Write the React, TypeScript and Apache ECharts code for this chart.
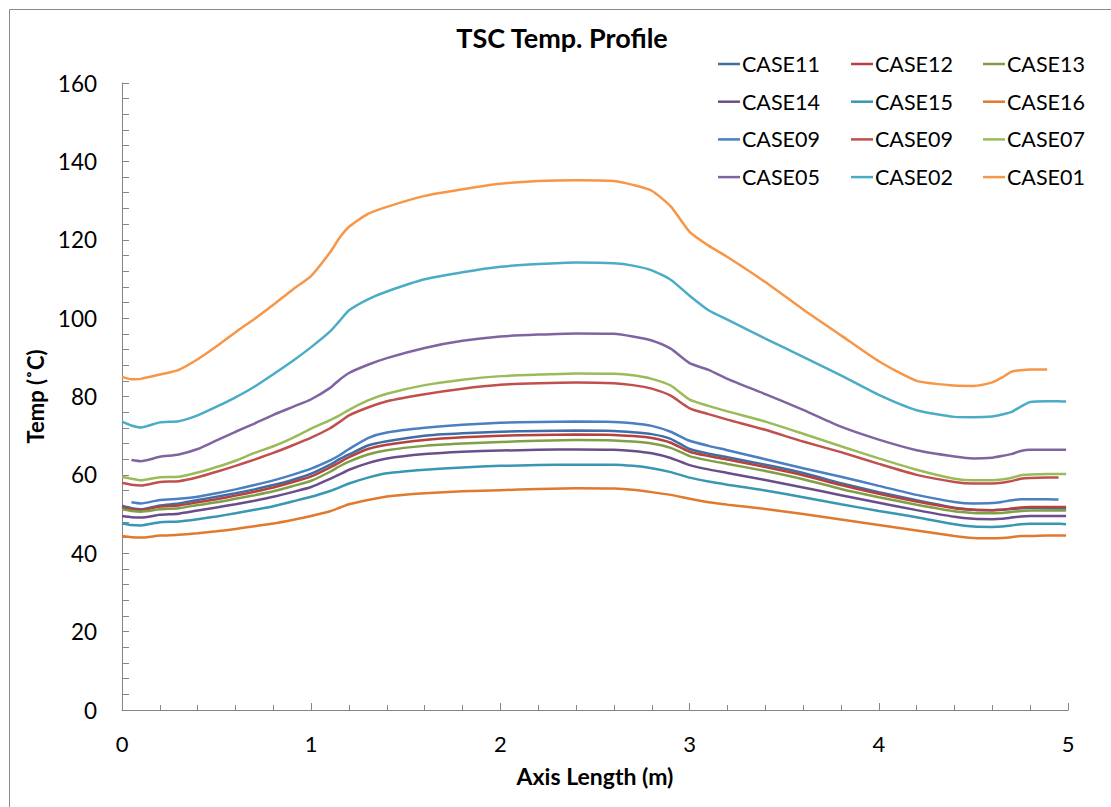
import React, { useEffect, useRef } from "react";
import * as echarts from "echarts";

// Axial positions (m) shared by all temperature profiles
const axisLength = [
  0, 0.05, 0.1, 0.2, 0.3, 0.4, 0.5, 0.6, 0.7, 0.8,
  0.9, 1.0, 1.1, 1.15, 1.2, 1.3, 1.4, 1.6, 1.8, 2.0,
  2.2, 2.4, 2.6, 2.7, 2.8, 2.9, 3.0, 3.1, 3.2, 3.4,
  3.6, 3.8, 4.0, 4.2, 4.4, 4.5, 4.6, 4.65, 4.7, 4.75,
  4.8, 4.89, 4.95, 4.99,
];

// Temperatures (°C); null where a profile has no reading
const case11 = [
  52.1, 51.5, 51.2, 52.2, 52.7, 53.6, 54.4, 55.3, 56.3, 57.4,
  58.7, 60.3, 62.6, 64.0, 65.2, 67.5, 68.6, 70.0, 70.6, 71.0,
  71.2, 71.3, 71.2, 70.9, 70.4, 69.2, 66.6, 65.4, 64.5, 62.6,
  60.5, 57.9, 55.6, 53.5, 51.6, 51.1, 51.0, 51.1, 51.3, 51.5,
  51.6, 51.5, 51.4, 51.4,
];
const case12 = [
  51.6, 51.2, 51.0, 51.9, 52.2, 53.0, 53.8, 54.7, 55.7, 56.8,
  58.1, 59.6, 61.9, 63.2, 64.5, 66.6, 67.7, 68.9, 69.6, 70.0,
  70.2, 70.3, 70.2, 69.9, 69.4, 68.2, 65.9, 64.8, 63.9, 62.0,
  59.9, 57.4, 55.2, 53.2, 51.5, 51.1, 51.0, 51.1, 51.4, 51.7,
  51.8, 51.8, 51.8, 51.8,
];
const case13 = [
  51.2, 50.8, 50.6, 51.2, 51.5, 52.3, 53.0, 53.9, 54.8, 55.8,
  57.1, 58.5, 60.8, 62.2, 63.4, 65.2, 66.3, 67.4, 68.0, 68.4,
  68.7, 68.9, 68.8, 68.5, 68.0, 66.9, 64.8, 63.7, 62.8, 61.0,
  58.9, 56.4, 54.3, 52.4, 50.7, 50.3, 50.2, 50.3, 50.5, 50.8,
  50.9, 50.9, 50.9, 50.9,
];
const case14 = [
  49.5, 49.2, 49.1, 49.8, 50.1, 50.9, 51.7, 52.5, 53.4, 54.4,
  55.6, 56.9, 59.0, 60.1, 61.3, 63.0, 64.2, 65.3, 65.9, 66.2,
  66.4, 66.5, 66.4, 66.1, 65.5, 64.3, 62.5, 61.4, 60.5, 58.7,
  56.8, 54.8, 52.9, 51.0, 49.3, 48.8, 48.7, 48.8, 49.1, 49.4,
  49.5, 49.5, 49.5, 49.5,
];
const case15 = [
  47.6, 47.2, 47.1, 47.9, 48.1, 48.7, 49.4, 50.2, 51.1, 52.0,
  53.2, 54.4, 55.9, 56.8, 57.8, 59.3, 60.4, 61.3, 61.9, 62.3,
  62.5, 62.6, 62.6, 62.3, 61.7, 60.7, 59.3, 58.3, 57.5, 56.0,
  54.3, 52.5, 50.8, 49.2, 47.4, 46.8, 46.7, 46.8, 47.1, 47.4,
  47.5, 47.5, 47.5, 47.4,
];
const case16 = [
  44.4, 44.1, 44.0, 44.5, 44.7, 45.1, 45.6, 46.2, 46.9, 47.6,
  48.5, 49.5, 50.7, 51.6, 52.5, 53.6, 54.5, 55.3, 55.8, 56.1,
  56.4, 56.6, 56.5, 56.2, 55.6, 54.9, 53.9, 53.0, 52.4, 51.3,
  50.0, 48.6, 47.2, 45.8, 44.4, 43.9, 43.8, 43.9, 44.1, 44.4,
  44.4, 44.5, 44.5, 44.5,
];
const case09a = [
  null, 53.0, 52.7, 53.6, 53.9, 54.4, 55.3, 56.3, 57.4, 58.6,
  60.0, 61.6, 63.7, 65.0, 66.6, 69.4, 70.8, 72.0, 72.8, 73.3,
  73.5, 73.6, 73.5, 73.2, 72.5, 71.0, 68.7, 67.4, 66.3, 64.0,
  61.7, 59.5, 57.2, 54.9, 53.1, 52.7, 52.8, 53.1, 53.5, 53.8,
  53.8, 53.8, 53.7, null,
];
const case09b = [
  58.0, 57.5, 57.3, 58.2, 58.4, 59.4, 60.8, 62.3, 63.9, 65.6,
  67.5, 69.5, 71.9, 73.5, 75.2, 77.2, 78.8, 80.6, 82.0, 83.0,
  83.4, 83.6, 83.4, 82.9, 82.0, 80.2, 77.0, 75.5, 74.1, 71.5,
  68.5, 65.8, 62.8, 60.0, 58.2, 57.8, 57.8, 58.0, 58.4, 59.0,
  59.2, 59.3, 59.3, null,
];
const case07 = [
  59.5, 59.0, 58.6, 59.4, 59.5, 60.6, 62.0, 63.6, 65.6, 67.3,
  69.4, 71.8, 74.0, 75.2, 76.6, 79.0, 80.7, 82.9, 84.3, 85.2,
  85.6, 85.9, 85.8, 85.4, 84.5, 82.8, 79.2, 77.6, 76.2, 73.6,
  70.5, 67.3, 64.2, 61.3, 59.0, 58.6, 58.6, 58.8, 59.2, 59.9,
  60.1, 60.2, 60.2, 60.2,
];
const case05 = [
  null, 63.8, 63.5, 64.6, 65.2, 66.6, 68.8, 71.0, 73.1, 75.3,
  77.3, 79.3, 82.2, 84.3, 86.0, 88.1, 89.8, 92.4, 94.2, 95.3,
  95.8, 96.1, 96.0, 95.3, 94.3, 92.2, 88.5, 86.8, 84.5, 80.6,
  76.6, 72.3, 69.0, 66.3, 64.7, 64.2, 64.4, 64.8, 65.3, 66.1,
  66.4, 66.4, 66.4, 66.4,
];
const case02 = [
  73.6, 72.6, 72.1, 73.4, 73.7, 75.2, 77.4, 79.8, 82.5, 85.7,
  89.0, 92.6, 96.6, 99.3, 102.0, 104.8, 106.8, 109.9, 111.7, 113.1,
  113.8, 114.2, 114.0, 113.4, 112.2, 109.8, 105.7, 102.0, 99.6, 94.8,
  90.1, 85.4, 80.4, 76.5, 74.8, 74.7, 74.9, 75.4, 76.0, 77.4,
  78.6, 78.8, 78.8, 78.7,
];
const case01 = [
  85.0, 84.4, 84.5, 85.6, 86.8, 89.5, 92.8, 96.4, 99.8, 103.4,
  107.2, 110.8, 116.8, 120.5, 123.3, 126.6, 128.4, 131.2, 132.9, 134.3,
  135.0, 135.2, 135.0, 134.0, 132.5, 128.5, 122.0, 118.5, 115.6, 109.2,
  102.2, 95.6, 89.0, 84.0, 82.8, 82.7, 83.6, 84.8, 86.3, 86.7,
  86.9, 86.9, null, null,
];

const caseNames = [
  "CASE11", "CASE12", "CASE13", "CASE14", "CASE15", "CASE16",
  "CASE09", "CASE09", "CASE07", "CASE05", "CASE02", "CASE01",
];
const caseValues = [
  case11, case12, case13, case14, case15, case16,
  case09a, case09b, case07, case05, case02, case01,
];
const caseColors = [
  "#3F6DA8", "#B5423F", "#7FA046", "#6A4E8C", "#3897B1", "#E07A2E",
  "#4A7FC2", "#C0504D", "#9BBB59", "#8064A2", "#4BACC6", "#F79646",
];

const yTicks = [0, 20, 40, 60, 80, 100, 120, 140, 160];
const xTicks = [0, 1, 2, 3, 4, 5];

const FONT = "Lato, 'Open Sans', sans-serif";
const AXIS_GRAY = "#868686";

export default function App() {
  const ref = useRef<HTMLDivElement>(null);

  useEffect(() => {
    if (!ref.current) return;
    const chart = echarts.init(ref.current, undefined, { renderer: "svg" });

    const series = caseNames.map((name, i) => ({
      name,
      type: "line",
      showSymbol: false,
      symbol: "none",
      smooth: 0.2,
      lineStyle: { width: 2.5, color: caseColors[i] },
      itemStyle: { color: caseColors[i] },
      data: axisLength
        .map((x, k) => (caseValues[i][k] == null ? null : [x, caseValues[i][k]]))
        .filter((p) => p !== null),
    }));

    // Legend laid out in three columns, four rows
    const legendCols = [718, 851, 983];
    const legendTop = 64;
    const legendRowGap = 37.7;
    const legendItems: any[] = [];
    caseNames.forEach((name, i) => {
      const lx = legendCols[i % 3];
      const ly = legendTop + Math.floor(i / 3) * legendRowGap;
      legendItems.push({
        type: "line",
        shape: { x1: lx, y1: ly, x2: lx + 22, y2: ly },
        style: { stroke: caseColors[i], lineWidth: 2.5 },
      });
      legendItems.push({
        type: "text",
        x: lx + 24,
        y: ly,
        style: {
          text: name,
          fontFamily: FONT,
          fontSize: 21.5,
          fill: "#000",
          align: "left",
          verticalAlign: "middle",
        },
      });
    });

    chart.setOption({
      animation: false,
      backgroundColor: "#fff",
      grid: {
        left: 122,
        right: 43,
        top: 83,
        bottom: 97,
        outerBoundsMode: "none",
      },
      xAxis: {
        type: "value",
        min: xTicks[0],
        max: xTicks[xTicks.length - 1],
        interval: 1,
        name: "Axis Length (m)",
        nameLocation: "middle",
        nameGap: 54,
        nameTextStyle: { fontFamily: FONT, fontSize: 23, fontWeight: "bold", color: "#000" },
        axisLine: { show: true, lineStyle: { color: AXIS_GRAY, width: 1 } },
        axisTick: { show: true, inside: true, length: 7, lineStyle: { color: AXIS_GRAY } },
        minorTick: { show: true, splitNumber: 5, length: 5, lineStyle: { color: AXIS_GRAY } },
        splitLine: { show: false },
        axisLabel: { fontFamily: FONT, fontSize: 22, color: "#000", margin: 22 },
      },
      yAxis: {
        type: "value",
        min: yTicks[0],
        max: yTicks[yTicks.length - 1],
        interval: 20,
        name: "Temp (˚C)",
        nameLocation: "middle",
        nameGap: 70,
        nameRotate: 90,
        nameTextStyle: { fontFamily: FONT, fontSize: 22, fontWeight: "bold", color: "#000" },
        axisLine: { show: true, lineStyle: { color: AXIS_GRAY, width: 1 } },
        axisTick: { show: true, inside: true, length: 7, lineStyle: { color: AXIS_GRAY } },
        minorTick: { show: true, splitNumber: 5, length: 7, lineStyle: { color: AXIS_GRAY } },
        splitLine: { show: false },
        axisLabel: { fontFamily: FONT, fontSize: 22.5, color: "#000", margin: 25 },
      },
      graphic: [
        {
          type: "rect",
          shape: { x: 9.5, y: 9.5, width: 1300, height: 1000 },
          style: { fill: "none", stroke: "#898989", lineWidth: 1 },
          silent: true,
        },
        {
          type: "text",
          x: 562,
          y: 37,
          style: {
            text: "TSC Temp. Profile",
            fontFamily: FONT,
            fontSize: 27,
            fontWeight: "bold",
            fill: "#000",
            align: "center",
            verticalAlign: "middle",
          },
        },
        ...legendItems,
      ],
      series,
    });

    return () => chart.dispose();
  }, []);

  return (
    <div
      ref={ref}
      style={{ position: "fixed", left: 0, top: 0, width: 1111, height: 807, background: "#fff" }}
    />
  );
}
